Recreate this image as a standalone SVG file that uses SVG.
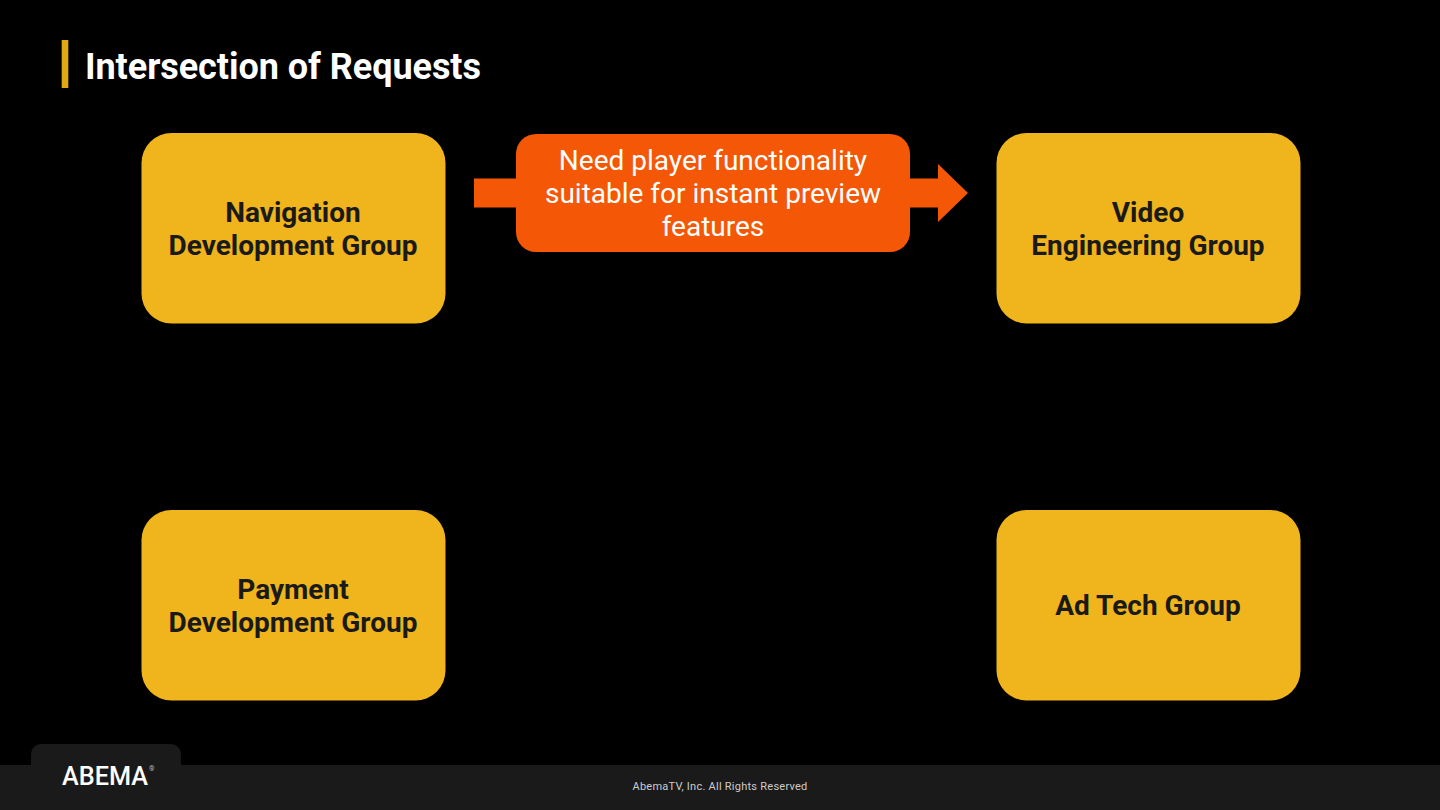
<svg xmlns="http://www.w3.org/2000/svg" width="1440" height="810" viewBox="0 0 1440 810">
<style>
.n{fill:#f0b41c}
.t{font-family:Roboto,"Liberation Sans",sans-serif;font-weight:700;font-size:28px;fill:#1a1a1a;text-anchor:middle}
.c{font-family:Roboto,"Liberation Sans",sans-serif;font-size:28px;fill:#fff;text-anchor:middle}
</style>
<rect width="1440" height="810" fill="#000"/>
<rect x="61.7" y="40" width="6.6" height="48" fill="#e0a90f"/>
<text x="85" y="79" font-family="Roboto,sans-serif" font-weight="700" font-size="36" fill="#fff" textLength="396">Intersection of Requests</text>
<g id="connectors"><path d="M474 178.500H938V164L968 193L938 222V207.500H474Z" fill="#f45705"/></g>
<g id="nav"><rect class="n" x="141.500" y="133" width="304" height="190.500" rx="30"/><text class="t" x="293" y="222">Navigation</text><text class="t" x="293" y="255">Development Group</text></g>
<g id="video"><rect class="n" x="996.500" y="133" width="304" height="190.500" rx="30"/><text class="t" x="1148" y="222">Video</text><text class="t" x="1148" y="255">Engineering Group</text></g>
<g id="payment"><rect class="n" x="141.500" y="510" width="304" height="190.500" rx="30"/><text class="t" x="293" y="599">Payment</text><text class="t" x="293" y="632">Development Group</text></g>
<g id="adtech"><rect class="n" x="996.500" y="510" width="304" height="190.500" rx="30"/><text class="t" x="1148" y="615">Ad Tech Group</text></g>
<g id="label"><rect x="516" y="134" width="394" height="118" rx="20" fill="#f45705"/><text class="c" x="713" y="170">Need player functionality</text><text class="c" x="713" y="203">suitable for instant preview</text><text class="c" x="713" y="236">features</text></g>
<rect y="765" width="1440" height="45" fill="#1a1a1a"/>
<rect x="31" y="744" width="150" height="40" rx="10" fill="#1a1a1a"/>
<text x="62" y="785" font-family="Roboto,sans-serif" font-weight="500" font-size="25" fill="#fff" textLength="86" lengthAdjust="spacingAndGlyphs">ABEMA</text>
<text x="149" y="771" font-family="Roboto,sans-serif" font-size="7" fill="#bbb">®</text>
<text x="720" y="790" font-family="Roboto,sans-serif" font-size="11" fill="#ccc" text-anchor="middle" letter-spacing="0.25">AbemaTV, Inc. All Rights Reserved</text>
</svg>
